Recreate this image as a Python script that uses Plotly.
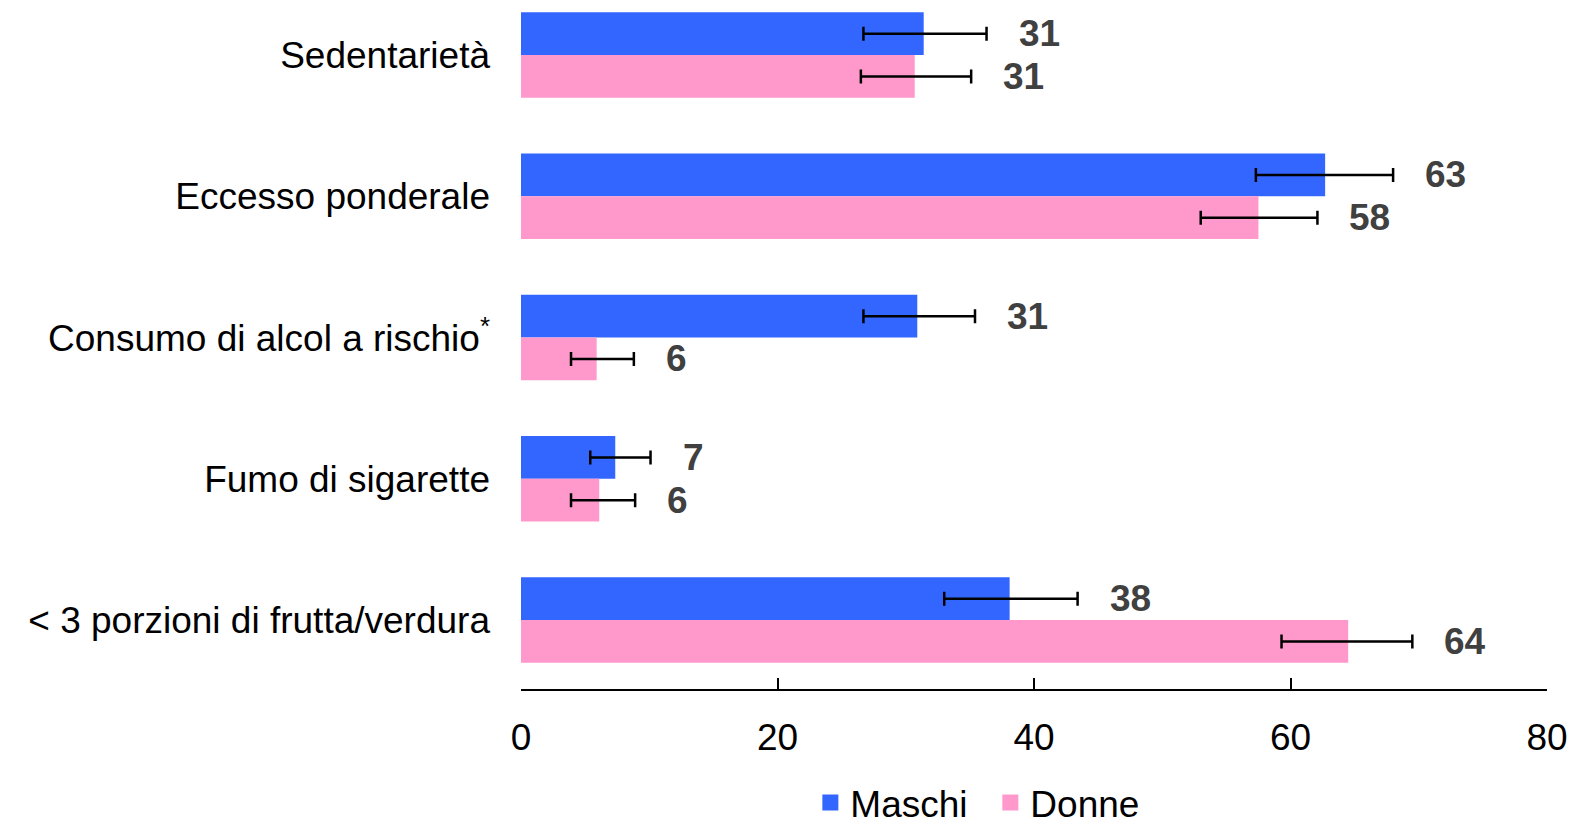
import plotly.graph_objects as go

categories = ["Sedentarietà", "Eccesso ponderale", "Consumo di alcol a rischio<sup>*</sup>",
              "Fumo di sigarette", "&lt; 3 porzioni di frutta/verdura"]
maschi = [31.4, 62.7, 30.9, 7.35, 38.1]
maschi_low = [26.7, 57.3, 26.7, 5.4, 33.0]
maschi_high = [36.3, 68.0, 35.4, 10.1, 43.4]
maschi_labels = ["31", "63", "31", "7", "38"]
donne = [30.7, 57.5, 5.9, 6.1, 64.5]
donne_low = [26.5, 53.0, 3.9, 3.9, 59.3]
donne_high = [35.1, 62.1, 8.8, 8.9, 69.5]
donne_labels = ["31", "58", "6", "6", "64"]

BLUE = "#3366FF"
PINK = "#FF99CC"
FONT = "Liberation Sans, Arial, sans-serif"

fig = go.Figure()
for name, vals, lo, hi, col in [("Maschi", maschi, maschi_low, maschi_high, BLUE),
                                 ("Donne", donne, donne_low, donne_high, PINK)]:
    fig.add_trace(go.Bar(
        name=name, y=categories, x=vals, orientation="h",
        marker=dict(color=col, line=dict(width=0)),
        error_x=dict(type="data", symmetric=False,
                     array=[h - v for h, v in zip(hi, vals)],
                     arrayminus=[v - l for v, l in zip(vals, lo)],
                     color="black", thickness=2.5, width=7),
        showlegend=False,
    ))
    # legend proxy
    fig.add_trace(go.Scatter(
        name=name, x=[None], y=[None], mode="markers",
        marker=dict(symbol="square", size=16, color=col), showlegend=True,
    ))

annotations = []
for hi, labels, ysh in [(maschi_high, maschi_labels, 21.4), (donne_high, donne_labels, -21.4)]:
    for cat, h, lab in zip(categories, hi, labels):
        annotations.append(dict(
            x=h, y=cat, xref="x", yref="y", text=lab, showarrow=False,
            xanchor="left", yanchor="middle", xshift=30, yshift=ysh,
            font=dict(family=FONT, size=37, color="#404040", weight="bold"),
        ))

fig.update_layout(
    width=1561, height=812,
    margin=dict(l=513, r=22, t=0, b=131),
    paper_bgcolor="white", plot_bgcolor="white",
    barmode="group", bargap=0.395, bargroupgap=0,
    font=dict(family=FONT, size=37, color="black"),
    annotations=annotations,
    legend=dict(orientation="h", xref="container", yref="container",
                x=0.514, xanchor="left", y=0.0209, yanchor="middle",
                entrywidth=135,
                font=dict(family=FONT, size=37, color="black"),
                bgcolor="rgba(0,0,0,0)", borderwidth=0),
    xaxis=dict(range=[0, 80], dtick=20, showgrid=False, zeroline=False,
               showline=True, linecolor="black", linewidth=2,
               ticks="inside", ticklen=11, tickwidth=2, tickcolor="black",
               tickfont=dict(family=FONT, size=37, color="black"),
               ticklabelstandoff=15),
    yaxis=dict(range=[4.488, -0.333], showgrid=False, zeroline=False, showline=False,
               ticks="", tickfont=dict(family=FONT, size=37, color="black"),
               ticklabelstandoff=30),
)

fig.write_html("out.html")
